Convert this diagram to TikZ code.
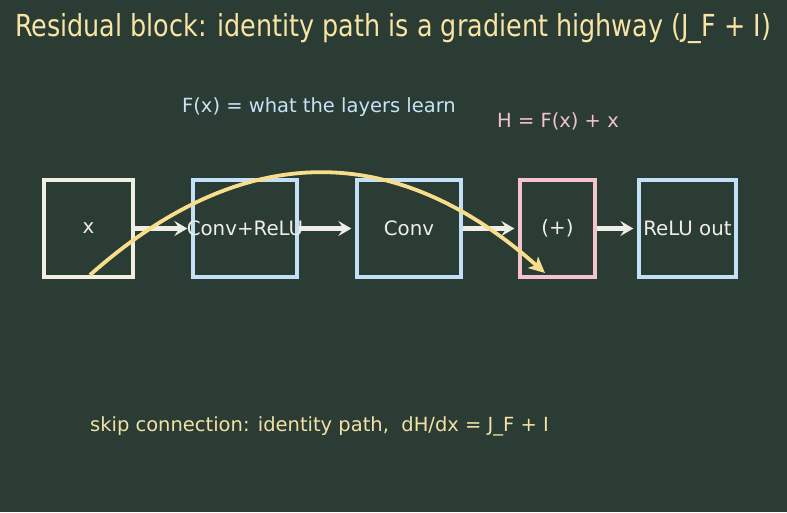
\documentclass[tikz,border=0pt]{standalone}
\usepackage{fontspec}
\setmainfont{DejaVu Sans}
\newfontfamily\titlefont[FakeStretch=0.84]{DejaVu Sans}
\usetikzlibrary{arrows.meta}
\definecolor{bg}{HTML}{2B3C34}
\definecolor{titlecol}{HTML}{F8E4A4}
\definecolor{cream}{HTML}{F0EFE2}
\definecolor{lblue}{HTML}{C2E0F6}
\definecolor{lpink}{HTML}{F6C2CC}
\definecolor{curvecol}{HTML}{F8DE8C}
\definecolor{txt}{HTML}{EEEEE6}
\definecolor{skipcol}{HTML}{F2E2A6}
\tikzset{
  blk/.style={draw, line width=3.3pt, minimum height=97pt, inner sep=0pt},
  blklabel/.style={text=txt, font=\fontsize{19.8}{22}\selectfont, inner sep=0pt},
  flow/.style={draw=txt, line width=4.2pt, -{Stealth[length=13pt,width=15pt,inset=5pt]}},
  skip/.style={draw=curvecol, line width=3.8pt, -{Stealth[length=16pt,width=15pt,inset=4pt]}}
}
\begin{document}
\begin{tikzpicture}[x=1pt,y=-1pt]
\fill[bg] (0,0) rectangle (787,512);
\useasboundingbox (0,0) rectangle (787,512);
\node[text=titlecol, font=\titlefont\fontsize{30.3}{34}\selectfont] (title) at (393,28.5) {Residual block: identity path is a gradient highway (J\_F + I)};
\node[blk, draw=cream, minimum width=89pt, label={[blklabel]center:x}] (x) at (88.5,228.5) {};
\node[blk, draw=lblue, minimum width=104pt, label={[blklabel]center:Conv+ReLU}] (c1) at (245,228.5) {};
\node[blk, draw=lblue, minimum width=104pt, label={[blklabel]center:Conv}] (c2) at (409,228.5) {};
\node[blk, draw=lpink, minimum width=75pt, label={[blklabel]center:(+)}] (add) at (557.5,228.5) {};
\node[blk, draw=lblue, minimum width=97pt, label={[blklabel]center:ReLU out}] (out) at (687.5,228.5) {};
\draw[flow] (x.east) -- ([xshift=-4pt]c1.west);
\draw[flow] (c1.east) -- ([xshift=-4pt]c2.west);
\draw[flow] (c2.east) -- ([xshift=-4pt]add.west);
\draw[flow] (add.east) -- ([xshift=-4pt]out.west);
\coordinate (s0) at (90,275);
\coordinate (s1) at (545,273);
\draw[skip] (s0) .. controls (242,140) and (394,139) .. (s1);
\node[text=lblue!90!white, font=\fontsize{19.5}{22}\selectfont] (fx) at (319,107.5) {F(x) = what the layers learn};
\node[text=lpink, font=\fontsize{19.5}{22}\selectfont] (h) at (558,121) {H = F(x) + x};
\node[text=skipcol, font=\fontsize{19.5}{22}\selectfont] (sk) at (319.5,426.5) {skip connection: identity path,\ \ dH/dx = J\_F + I};
\end{tikzpicture}
\end{document}
